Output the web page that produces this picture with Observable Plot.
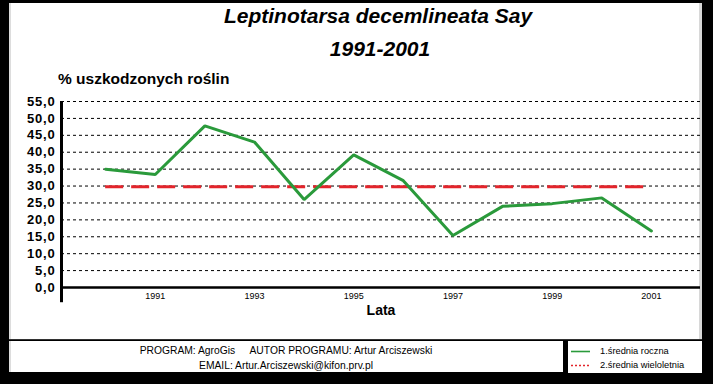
<!DOCTYPE html>
<html>
<head>
<meta charset="utf-8">
<script src="https://cdn.jsdelivr.net/npm/d3@7"></script>
<script src="https://cdn.jsdelivr.net/npm/@observablehq/plot@0.6"></script>
<style>
  html, body { margin: 0; padding: 0; background: #000; }
  #wrap { position: relative; width: 713px; height: 384px; background: #000; overflow: hidden;
          font-family: "Liberation Sans", Arial, sans-serif; color: #000; }
  #panel { position: absolute; left: 9px; top: 3px; width: 693px; height: 336px; background: #fff;
           border-bottom: 1px solid #333; box-shadow: inset 2px 0 0 #ddd, inset -3px 0 0 #d8d8d8; }
  .t { position: absolute; white-space: nowrap; }
  #title { left: 0; width: 756px; top: 4px; text-align: center; font-size: 21px; font-weight: bold; font-style: italic; line-height: 24px; }
  #sub { left: 0; width: 760px; top: 37px; text-align: center; font-size: 21px; font-weight: bold; font-style: italic; line-height: 24px; }
  #ylab { left: 58px; top: 70px; font-size: 15.5px; font-weight: bold; line-height: 18px; }
  #chart { position: absolute; left: 0; top: 62px; }
  #foot { position: absolute; left: 9px; top: 341px; width: 554px; height: 31px; background: #fff; box-shadow: inset 2px 0 0 #ddd; }
  #foot div { position: absolute; left: 0; width: 554px; text-align: center; font-size: 10.3px; line-height: 12px; }
  #leg { position: absolute; left: 568px; top: 341px; width: 134px; height: 32px; background: #fff; }
  #leg span { position: absolute; left: 32px; font-size: 9.3px; line-height: 12px; }
  svg [aria-label="y-axis tick label"] text { letter-spacing: 0.8px; }
</style>
</head>
<body>
<div id="wrap">
  <div id="panel"></div>
  <div class="t" id="title">Leptinotarsa decemlineata Say</div>
  <div class="t" id="sub">1991-2001</div>
  <div class="t" id="ylab">% uszkodzonych roślin</div>
  <div id="chart"></div>
  <div id="foot">
    <div style="top:4px">PROGRAM: AgroGis&nbsp;&nbsp;&nbsp;&nbsp;&nbsp;AUTOR PROGRAMU: Artur Arciszewski</div>
    <div style="top:19px">EMAIL: Artur.Arciszewski@kifon.prv.pl</div>
  </div>
  <div id="leg">
    <svg width="134" height="32" style="position:absolute;left:0;top:0">
      <line x1="3" x2="22" y1="10.5" y2="10.5" style="stroke:#2a9a3b;stroke-width:1.6"></line>
      <line x1="3" x2="22" y1="24.5" y2="24.5" style="stroke:#e3242b;stroke-width:1.6;stroke-dasharray:2,2"></line>
    </svg>
    <span style="top:4px">1.średnia roczna</span>
    <span style="top:18px">2.średnia wieloletnia</span>
  </div>
</div>
<script>
const years = [1990, 1991, 1992, 1993, 1994, 1995, 1996, 1997, 1998, 1999, 2000, 2001];
const damage = [35.0, 33.4, 47.8, 43.0, 26.0, 39.2, 31.6, 15.4, 24.0, 24.8, 26.5, 16.7];
const longTermMean = 29.8;
const xTicks = [1991, 1993, 1995, 1997, 1999, 2001];
const yTicks = [0, 5, 10, 15, 20, 25, 30, 35, 40, 45, 50, 55];
const xDomain = [1989.11, 2001.99];
const yDomain = [0, 55];

const table = years.map((year, i) => ({year, value: damage[i]}));
const fmt = d => d.toFixed(1).replace(".", ",");

const chart = Plot.plot({
  width: 713,
  height: 258,
  marginLeft: 61,
  marginRight: 13,
  marginTop: 39,
  marginBottom: 33,
  x: {domain: xDomain},
  y: {domain: yDomain},
  style: {fontFamily: "'Liberation Sans', Arial, sans-serif", background: "transparent", overflow: "visible", color: "#000"},
  marks: [
    Plot.ruleY(yTicks.filter(d => d > 0), {stroke: "#000", strokeWidth: 1, strokeDasharray: "3,3"}),
    Plot.ruleY([longTermMean], {x1: years[0], x2: years[years.length - 1], stroke: "#e3242b", strokeWidth: 3, strokeDasharray: "18,8"}),
    Plot.line(table, {x: "year", y: "value", stroke: "#2a9a3b", strokeWidth: 3, strokeLinejoin: "miter"}),
    Plot.ruleY([yDomain[0]], {stroke: "#000", strokeWidth: 2.5}),
    Plot.ruleX([xDomain[0]], {y1: -4.5, y2: yDomain[1], stroke: "#000", strokeWidth: 3}),
    Plot.axisY({ticks: yTicks, tickSize: 0, tickPadding: 6, tickFormat: fmt, fontSize: 13, fontWeight: "bold", label: null}),
    Plot.axisX({ticks: xTicks, tickSize: 0, tickPadding: 5, tickFormat: d => String(d), fontSize: 9, label: null}),
    Plot.text(["Lata"], {frameAnchor: "bottom", dy: 27, fontSize: 14, fontWeight: "bold"})
  ]
});
document.getElementById("chart").appendChild(chart);
</script>
</body>
</html>
